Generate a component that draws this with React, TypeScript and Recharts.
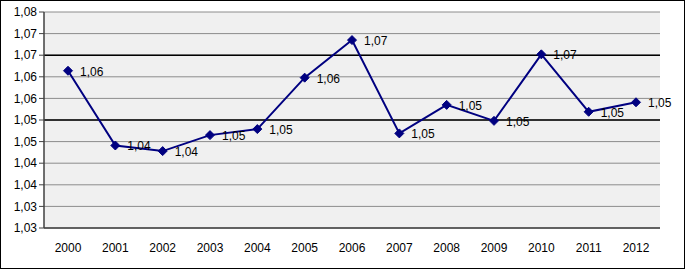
import {
  LineChart,
  Line,
  XAxis,
  YAxis,
  CartesianGrid,
  ReferenceLine,
  LabelList,
} from 'recharts';

const years = ['2000', '2001', '2002', '2003', '2004', '2005', '2006', '2007', '2008', '2009', '2010', '2011', '2012'];
const values = [1.0664, 1.0491, 1.0478, 1.0515, 1.0529, 1.0648, 1.0735, 1.0519, 1.0585, 1.0548, 1.0702, 1.0569, 1.0591];
const yTicks = [1.03, 1.035, 1.04, 1.045, 1.05, 1.055, 1.06, 1.065, 1.07, 1.075, 1.08];
const yTickLabels = ['1,03', '1,03', '1,04', '1,04', '1,05', '1,05', '1,06', '1,06', '1,07', '1,07', '1,08'];
const darkLines = [1.055, 1.07];

const data = years.map((year, i) => ({ year, value: values[i] }));

const FONT = '"Liberation Sans", Arial, sans-serif';
const NAVY = '#000080';

// Excel truncated the labels to two decimals, comma as separator
const formatValue = (v: number) => (Math.floor(v * 100 + 1e-9) / 100).toFixed(2).replace('.', ',');

const Diamond = (props: any) => {
  const { cx, cy } = props;
  if (cx == null || cy == null) return null;
  const r = 4.5;
  return (
    <polygon
      points={`${cx},${cy - r} ${cx + r},${cy} ${cx},${cy + r} ${cx - r},${cy}`}
      fill={NAVY}
      stroke={NAVY}
    />
  );
};

const ValueLabel = (props: any) => {
  const { x, y, value } = props;
  return (
    <text x={x + 12} y={y + 5} fontSize={12} fontFamily={FONT} fill="#000">
      {formatValue(value)}
    </text>
  );
};

export default function App() {
  return (
    <div
      style={{
        position: 'absolute',
        left: 0,
        top: 0,
        width: 685,
        height: 269,
        border: '1px solid #000',
        boxSizing: 'border-box',
        background: '#fff',
      }}
    >
      <LineChart
        width={683}
        height={267}
        data={data}
        margin={{ top: 11, right: 24, bottom: 0, left: 0 }}
        style={{ position: 'absolute', left: 0, top: 0 }}
      >
        <CartesianGrid vertical={false} stroke="#8c8c8c" fill="#f0f0f0" />
        {darkLines.map((v) => (
          <ReferenceLine key={v} y={v} stroke="#000" strokeWidth={1.5} />
        ))}
        <XAxis
          dataKey="year"
          height={40}
          padding={{ left: 24, right: 24 }}
          tickLine={false}
          axisLine={{ stroke: '#404040', strokeWidth: 1.5 }}
          tick={{ fontSize: 12, fontFamily: FONT, fill: '#000' }}
          tickMargin={9}
          interval={0}
        />
        <YAxis
          orientation="right"
          yAxisId="frame"
          width={0}
          tick={false}
          axisLine={{ stroke: '#808080' }}
          domain={[1.03, 1.08]}
        />
        <YAxis
          width={43}
          domain={[1.03, 1.08]}
          ticks={yTicks}
          interval={0}
          tickSize={5}
          tickLine={{ stroke: '#404040' }}
          axisLine={{ stroke: '#404040', strokeWidth: 1.5 }}
          tick={{ fontSize: 12, fontFamily: FONT, fill: '#000' }}
          tickFormatter={(v: number, i: number) => yTickLabels[i]}
        />
        <Line
          type="linear"
          dataKey="value"
          stroke={NAVY}
          strokeWidth={2}
          dot={<Diamond />}
          activeDot={false}
          isAnimationActive={false}
        >
          <LabelList dataKey="value" content={<ValueLabel />} />
        </Line>
      </LineChart>
    </div>
  );
}
